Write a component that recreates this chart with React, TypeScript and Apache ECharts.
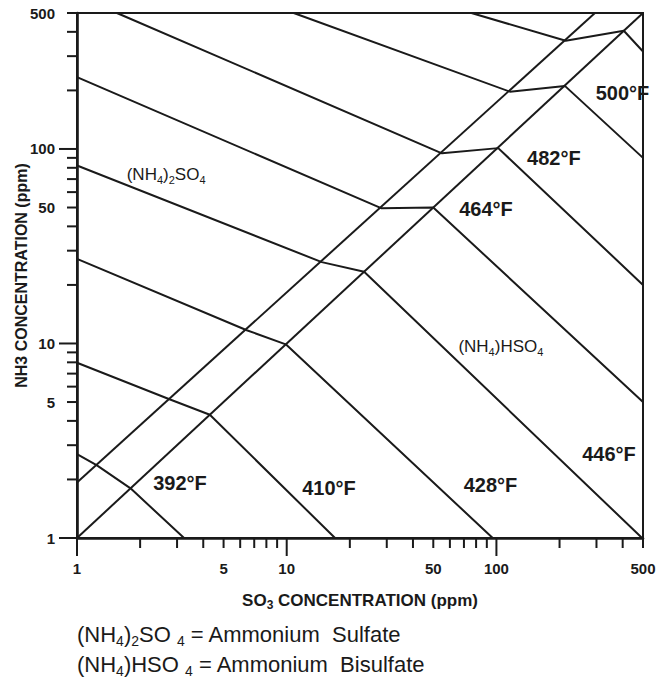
import React, { useEffect, useRef } from 'react';
import * as echarts from 'echarts';

// ---- axis ranges and ticks ----
const X_MIN = 1;
const X_MAX = 500;
const Y_MIN = 1;
const Y_MAX = 500;
const tickValues = [1, 2, 3, 4, 5, 6, 7, 8, 9, 10, 20, 30, 40, 50, 60, 70, 80, 90, 100, 200, 300, 400, 500];
const majorTicks = [1, 10, 100];
const tickLabels = [1, 5, 10, 50, 100, 500];

// ---- boundary (diagonal) lines: [SO3 ppm, NH3 ppm] ----
const lowerDiagonal = [[1, 1], [500, 500]];
const upperDiagonal = [[1, 1.93], [295, 500]];

// ---- temperature lines: [SO3 ppm, NH3 ppm] ----
const line392 = [[1, 2.7], [1.24, 2.37], [1.8, 1.8], [3.24, 1]];
const line410 = [[1, 7.96], [2.78, 5.15], [4.3, 4.3], [17, 1]];
const line428 = [[1, 27.2], [6.45, 11.7], [9.9, 9.9], [96, 1]];
const line446 = [[1, 82.2], [14.7, 26.2], [23.4, 23.4], [495, 1]];
const line464 = [[1, 234], [28.2, 49.6], [50, 50], [500, 5]];
const line482 = [[1.55, 500], [55, 95], [102, 101], [500, 20]];
const line500 = [[10.8, 500], [116, 197], [212, 211], [500, 90]];
const line518 = [[76, 500], [214, 360], [405, 405], [500, 317]];
const tempLines = [line392, line410, line428, line446, line464, line482, line500, line518];

// ---- temperature labels (anchored in data space) ----
const tempLabels = ['392°F', '410°F', '428°F', '446°F', '464°F', '482°F', '500°F'];
const tempLabelX = [3.1, 15.9, 93.7, 344, 89.2, 188, 399];
const tempLabelY = [1.92, 1.8, 1.87, 2.7, 49.2, 89.7, 194];

// ---- region labels ----
const regionLabels = ['{n|(NH}{s|4}{n|)}{s|2}{n|SO}{s|4}', '{n|(NH}{s|4}{n|)HSO}{s|4}'];
const regionLabelX = [2.66, 105];
const regionLabelY = [73.6, 9.62];

const INK = '#1a1a1a';
const FONT = '"Liberation Sans", Arial, Helvetica, sans-serif';

export default function App() {
  const ref = useRef<HTMLDivElement>(null);

  useEffect(() => {
    if (!ref.current) return;
    const chart = echarts.init(ref.current, null, { renderer: 'svg' });

    const lineSeries = [lowerDiagonal, upperDiagonal, ...tempLines].map((d, i) => ({
      type: 'line',
      name: 'line' + i,
      data: d,
      symbol: 'none',
      silent: true,
      lineStyle: { color: INK, width: 2 },
      z: 3,
    }));

    const xTickSeries = {
      type: 'custom',
      clip: false,
      silent: true,
      data: tickValues.map((v) => [v, Y_MIN]),
      renderItem: (params: any, api: any) => {
        const v = api.value(0);
        const p = api.coord([v, Y_MIN]);
        const len = majorTicks.includes(v) ? 18 : 10;
        const children: any[] = [
          {
            type: 'line',
            shape: { x1: p[0], y1: p[1], x2: p[0], y2: p[1] + len },
            style: { stroke: INK, lineWidth: 2 },
          },
        ];
        if (tickLabels.includes(v)) {
          children.push({
            type: 'text',
            style: {
              text: String(v),
              x: p[0],
              y: p[1] + 30,
              align: 'center',
              verticalAlign: 'middle',
              font: 'bold 15px ' + FONT,
              fill: INK,
            },
          });
        }
        return { type: 'group', children };
      },
    };

    const yTickSeries = {
      type: 'custom',
      clip: false,
      silent: true,
      data: tickValues.map((v) => [X_MIN, v]),
      renderItem: (params: any, api: any) => {
        const v = api.value(1);
        const p = api.coord([X_MIN, v]);
        const len = majorTicks.includes(v) ? 18 : 10;
        const children: any[] = [
          {
            type: 'line',
            shape: { x1: p[0], y1: p[1], x2: p[0] - len, y2: p[1] },
            style: { stroke: INK, lineWidth: 2 },
          },
        ];
        if (tickLabels.includes(v)) {
          children.push({
            type: 'text',
            style: {
              text: String(v),
              x: p[0] - 22,
              y: p[1],
              align: 'right',
              verticalAlign: 'middle',
              font: 'bold 15px ' + FONT,
              fill: INK,
            },
          });
        }
        return { type: 'group', children };
      },
    };

    const tempLabelSeries = {
      type: 'custom',
      clip: false,
      silent: true,
      z: 5,
      data: tempLabels.map((t, i) => [tempLabelX[i], tempLabelY[i]]),
      renderItem: (params: any, api: any) => {
        const p = api.coord([api.value(0), api.value(1)]);
        return {
          type: 'text',
          style: {
            text: tempLabels[params.dataIndex],
            x: p[0],
            y: p[1],
            align: 'center',
            verticalAlign: 'middle',
            font: 'bold 20px ' + FONT,
            fill: INK,
          },
        };
      },
    };

    const regionLabelSeries = {
      type: 'custom',
      clip: false,
      silent: true,
      z: 5,
      data: regionLabels.map((t, i) => [regionLabelX[i], regionLabelY[i]]),
      renderItem: (params: any, api: any) => {
        const p = api.coord([api.value(0), api.value(1)]);
        return {
          type: 'text',
          style: {
            text: regionLabels[params.dataIndex],
            x: p[0],
            y: p[1],
            align: 'center',
            verticalAlign: 'middle',
            fill: INK,
            rich: {
              n: { fontSize: 17, fontFamily: FONT, lineHeight: 22, verticalAlign: 'middle', color: INK },
              s: { fontSize: 11, fontFamily: FONT, lineHeight: 11, verticalAlign: 'bottom', color: INK },
            },
          },
        };
      },
    };

    const legendRich = {
      n: { fontSize: 22, fontFamily: FONT, lineHeight: 28, verticalAlign: 'middle', color: INK },
      s: { fontSize: 14, fontFamily: FONT, lineHeight: 14, verticalAlign: 'bottom', color: INK },
    };

    chart.setOption({
      animation: false,
      backgroundColor: '#ffffff',
      grid: {
        left: 77,
        right: 15,
        top: 13,
        bottom: 144,
        show: true,
        borderColor: INK,
        borderWidth: 2,
        backgroundColor: '#ffffff',
      },
      xAxis: {
        type: 'log',
        logBase: 10,
        min: X_MIN,
        max: X_MAX,
        axisLine: { show: true, lineStyle: { color: INK, width: 2.6 } },
        axisTick: { show: false },
        axisLabel: { show: false },
        splitLine: { show: false },
        name: '{b|SO}{sb|3}{b| CONCENTRATION (ppm)}',
        nameLocation: 'middle',
        nameGap: 51,
        nameTextStyle: {
          rich: {
            b: { fontSize: 17, fontWeight: 'bold', fontFamily: FONT, lineHeight: 22, verticalAlign: 'middle', color: INK },
            sb: { fontSize: 12, fontWeight: 'bold', fontFamily: FONT, lineHeight: 12, verticalAlign: 'bottom', color: INK },
          },
        },
      },
      yAxis: {
        type: 'log',
        logBase: 10,
        min: Y_MIN,
        max: Y_MAX,
        axisLine: { show: true, lineStyle: { color: INK, width: 2.6 } },
        axisTick: { show: false },
        axisLabel: { show: false },
        splitLine: { show: false },
        name: 'NH3 CONCENTRATION (ppm)',
        nameLocation: 'middle',
        nameRotate: 90,
        nameGap: 47,
        nameTextStyle: {
          fontSize: 16,
          fontWeight: 'bold',
          fontFamily: FONT,
          color: INK,
          lineHeight: 18,
        },
      },
      graphic: [
        {
          type: 'text',
          left: 77,
          top: 623,
          style: {
            text: '{n|(NH}{s|4}{n|)}{s|2}{n|SO }{s|4}{n| = Ammonium  Sulfate}',
            rich: legendRich,
            fill: INK,
          },
        },
        {
          type: 'text',
          left: 77,
          top: 653,
          style: {
            text: '{n|(NH}{s|4}{n|)HSO }{s|4}{n| = Ammonium  Bisulfate}',
            rich: legendRich,
            fill: INK,
          },
        },
      ],
      series: [...lineSeries, xTickSeries, yTickSeries, tempLabelSeries, regionLabelSeries],
    });

    return () => chart.dispose();
  }, []);

  return (
    <div
      ref={ref}
      style={{ position: 'absolute', left: 0, top: 0, width: 658, height: 682, background: '#fff' }}
    />
  );
}
